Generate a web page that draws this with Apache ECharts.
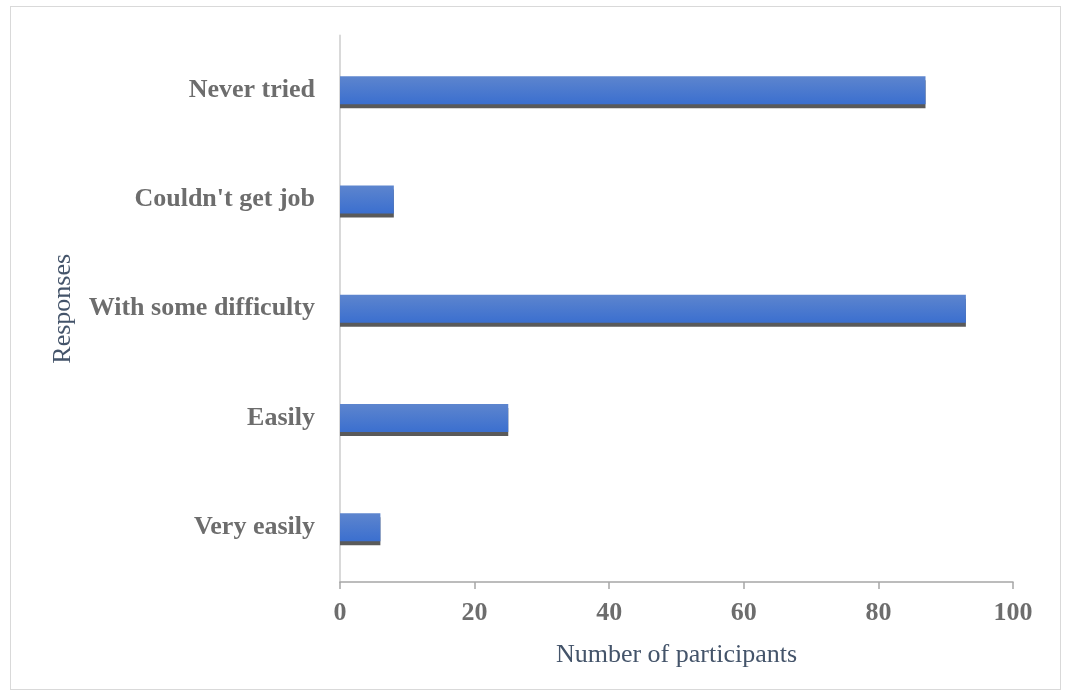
<!DOCTYPE html>
<html><head><meta charset="utf-8">
<script src="https://cdn.jsdelivr.net/npm/echarts@6/dist/echarts.min.js"></script>
<style>html,body{margin:0;padding:0;background:#fff}#c{width:1067px;height:696px}
#frame{position:absolute;left:10px;top:6px;width:1051px;height:684px;border:1px solid #d9d9d9;box-sizing:border-box;pointer-events:none}</style>
</head><body><div id="c"></div><div id="frame"></div>
<script>
const categories = ['Very easily', 'Easily', 'With some difficulty', "Couldn't get job", 'Never tried'];
const values = [6, 25, 93, 8, 87];
const xTicks = [0, 20, 40, 60, 80, 100];
const chart = echarts.init(document.getElementById('c'));
chart.setOption({
  animation: false,
  grid: {left: 340, right: 54, top: 35.5, bottom: 114},
  xAxis: {
    type: 'value', min: xTicks[0], max: xTicks[xTicks.length-1], interval: 20,
    name: 'Number of participants', nameLocation: 'middle', nameGap: 60,
    nameTextStyle: {fontFamily: 'Liberation Serif', fontSize: 26, color: '#44546a'},
    axisLine: {show: true, lineStyle: {color: '#a6a6a6', width: 1.5}},
    axisTick: {show: true, length: 7, lineStyle: {color: '#a6a6a6', width: 1.5}},
    splitLine: {show: false},
    axisLabel: {fontFamily: 'Liberation Serif', fontSize: 26, fontWeight: 'bold', color: '#6d6d6d', margin: 18}
  },
  yAxis: {
    type: 'category', data: categories,
    name: 'Responses', nameLocation: 'middle', nameGap: 264, nameRotate: 90,
    nameTextStyle: {fontFamily: 'Liberation Serif', fontSize: 26, color: '#44546a'},
    axisLine: {show: true, lineStyle: {color: '#d9d9d9', width: 2}},
    axisTick: {show: false},
    axisLabel: {fontFamily: 'Liberation Serif', fontSize: 26, fontWeight: 'bold', color: '#6d6d6d', margin: 25}
  },
  series: [{
    type: 'bar', data: values, barWidth: 28,
    itemStyle: {
      color: new echarts.graphic.LinearGradient(0, 0, 0, 1, [{offset: 0, color: '#5d85ce'}, {offset: 1, color: '#3b6fcf'}]),
      shadowColor: '#5a5a5a', shadowOffsetY: 4, shadowBlur: 0
    }
  }]
});
</script></body></html>
